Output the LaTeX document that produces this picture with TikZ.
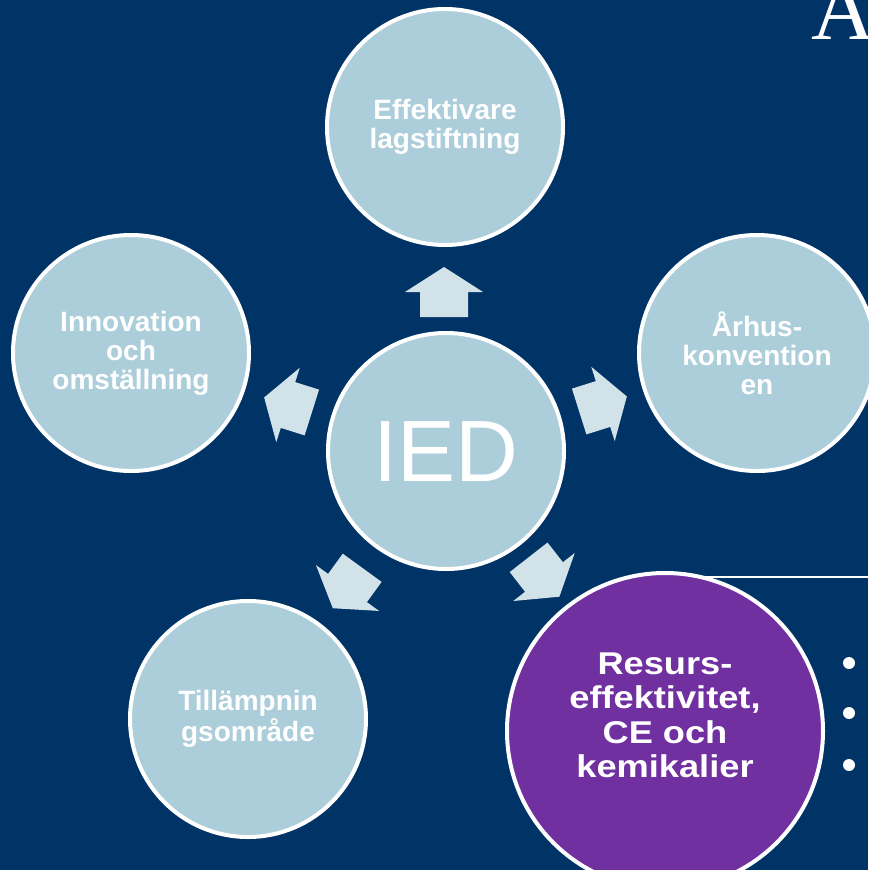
\documentclass[tikz,border=0pt]{standalone}
\usepackage{fontspec}
\setmainfont{Liberation Sans}
\newfontfamily\serifA{Liberation Serif}
\definecolor{bgnavy}{RGB}{0,51,102}
\definecolor{circblue}{RGB}{172,206,218}
\definecolor{arrowblue}{RGB}{210,226,233}
\definecolor{cepurple}{RGB}{112,48,160}
\tikzset{
  sat/.style={circle, draw=white, line width=4, fill=circblue, minimum size=236, inner sep=0, text=white, align=center},
  purplecirc/.style={circle, draw=white, line width=4, fill=cepurple, minimum size=316, inner sep=0},
  arrowfill/.style={fill=arrowblue},
  bulletdot/.style={circle, fill=white, minimum size=12, inner sep=0},
}
\newcommand\cyclearrow[2]{%
  \path[arrowfill, shift={(#1)}, rotate=#2] (25,0) -- (0,39) -- (0,24) -- (-25,24) -- (-25,-24) -- (0,-24) -- (0,-39) -- cycle;}
\begin{document}
\begin{tikzpicture}[x=1pt, y=-1pt]
\fill[bgnavy] (0,0) rectangle (868,870);
\useasboundingbox (0,0) rectangle (868,870);

% title letter
\node[anchor=base west, inner sep=0, text=white, font=\serifA\fontsize{88}{88}\selectfont] (titleA) at (811,39) {A};

% rule line
\coordinate (linestart) at (690,577);
\coordinate (lineend) at (868,577);
\draw[white, line width=2.5] (linestart) -- (lineend);

% circles
\node[sat] (ied) at (446,451) {};
\node[text=white, font=\fontsize{87}{87}\selectfont] (iedtext) at (446,452) {IED};

\node[sat, font=\bfseries\fontsize{28}{29.5}\selectfont] (top) at (445,127) {Effektivare\\lagstiftning};
\node[sat, font=\bfseries\fontsize{28}{29}\selectfont] (left) at (131,353) {Innovation\\och\\omställning};
\node[sat, font=\bfseries\fontsize{28}{29}\selectfont] (right) at (757,353) {Århus-\\konvention\\en};
\node[sat, font=\bfseries\fontsize{28}{31}\selectfont] (bleft) at (248,719) {Tillämpnin\\gsområde};

\node[purplecirc] (ce) at (665,731) {};
\node[text=white, inner sep=0] (cetext) at (665,719) {\fontsize{31.5}{34.5}\selectfont\bfseries\scalebox{1.15}[1]{\begin{tabular}{@{}c@{}}Resurs-\\effektivitet,\\CE och\\kemikalier\end{tabular}}};

% arrows
\cyclearrow{444,292}{90}
\cyclearrow{288,405}{162.5}
\cyclearrow{603,404}{17.5}
\cyclearrow{347.5,588}{-126}
\cyclearrow{544,577}{-52}

% bullets
\node[bulletdot] (b1) at (849,663) {};
\node[bulletdot] (b2) at (849,713) {};
\node[bulletdot] (b3) at (849,765) {};
\end{tikzpicture}
\end{document}
